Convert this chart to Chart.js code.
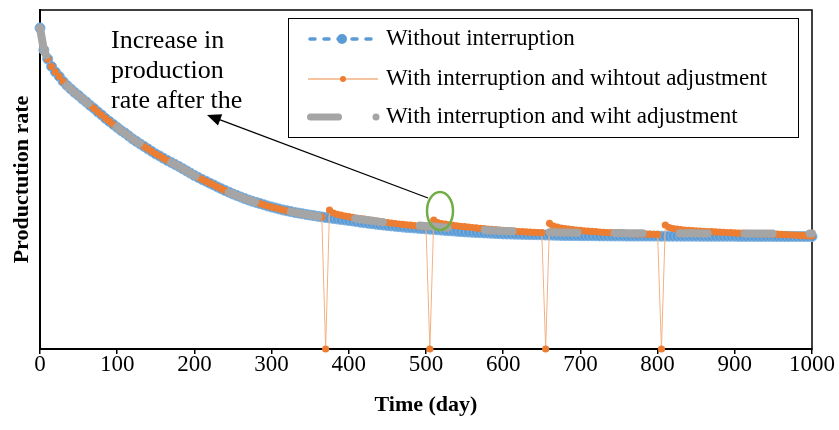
<!DOCTYPE html>
<html>
<head>
<meta charset="utf-8">
<script src="https://cdn.jsdelivr.net/npm/chart.js@4.4.1/dist/chart.umd.min.js"></script>
<style>
  html, body { margin: 0; padding: 0; background: #fff; }
</style>
</head>
<body>
<canvas id="myChart" width="839" height="430"></canvas>
<script>
// time axis, one point every 5 days
const days = [];
for (let d = 0; d <= 1000; d += 5) days.push(d);

const xTicks = [0, 100, 200, 300, 400, 500, 600, 700, 800, 900, 1000];

const seriesNames = [
  'Without interruption',
  'With interruption and wihtout adjustment',
  'With interruption and wiht adjustment'
];

// production rate (arbitrary units)
const withoutInterruption = [
  321, 299, 290, 282.5, 277, 272.5, 267.5, 263.5, 260, 256.5,
  253.5, 250, 247, 243.5, 240.5, 237, 234, 230.5, 227.5, 224.5,
  221.5, 218.5, 216, 213, 210, 207.5, 205, 202.5, 200, 197.5,
  195, 193, 190.7, 188.5, 186.5, 184.5, 182.5, 180.2, 178, 175.8,
  173.5, 171.5, 169.5, 167.7, 165.8, 164, 162, 160.2, 158.4, 156.7,
  155, 153.5, 152, 150.5, 149, 147.8, 146.6, 145.4, 144.2, 143,
  142, 141, 140, 139, 138.2, 137.4, 136.6, 135.9, 135.2, 134.5,
  133.9, 133.3, 132.7, 132.1, 131.5, 131, 130.5, 130, 129.5, 129,
  128.5, 128, 127.4, 126.8, 126.3, 125.8, 125.3, 124.8, 124.3, 123.9,
  123.5, 123.1, 122.7, 122.3, 121.9, 121.6, 121.3, 121, 120.7, 120.4,
  120.1, 119.8, 119.5, 119.2, 118.9, 118.6, 118.3, 118, 117.7, 117.4,
  117.1, 116.9, 116.7, 116.5, 116.3, 116.1, 115.9, 115.7, 115.5, 115.3,
  115.1, 115, 114.9, 114.8, 114.7, 114.6, 114.5, 114.4, 114.3, 114.2,
  114.1, 114, 113.9, 113.8, 113.7, 113.6, 113.5, 113.5, 113.4, 113.4,
  113.3, 113.3, 113.2, 113.2, 113.2, 113.1, 113.1, 113.1, 113, 113,
  113, 113, 112.9, 112.9, 112.9, 112.9, 112.9, 112.9, 112.9, 112.9,
  112.9, 112.8, 112.8, 112.8, 112.8, 112.8, 112.8, 112.8, 112.8, 112.8,
  112.8, 112.7, 112.7, 112.7, 112.7, 112.7, 112.7, 112.7, 112.7, 112.7,
  112.7, 112.6, 112.6, 112.6, 112.6, 112.6, 112.6, 112.6, 112.6, 112.6,
  112.6, 112.5, 112.5, 112.5, 112.5, 112.5, 112.5, 112.5, 112.5, 112.5,
  112.5
];

const interruptionNoAdjust = [
  321, 299, 290, 282.5, 277, 272.5, 267.5, 263.5, 260, 256.5,
  253.5, 250, 247, 243.5, 240.5, 237, 234, 230.5, 227.5, 224.5,
  221.5, 218.5, 216, 213, 210, 207.5, 205, 202.5, 200, 197.5,
  195, 193, 190.7, 188.5, 186.5, 184.5, 182.5, 180.2, 178, 175.8,
  173.5, 171.5, 169.5, 167.7, 165.8, 164, 162, 160.2, 158.4, 156.7,
  155, 153.5, 152, 150.5, 149, 147.8, 146.6, 145.4, 144.2, 143,
  142, 141, 140, 139, 138.2, 137.4, 136.6, 135.9, 135.2, 134.5,
  133.9, 133.3, 132.7, 132.1, 0, 139, 136, 134.7, 133.8, 133,
  132.3, 131.6, 131, 130.4, 129.8, 129.2, 128.6, 128, 127.5, 127,
  126.5, 126, 125.5, 125, 124.6, 124.2, 123.8, 123.4, 123, 122.6,
  122.2, 0, 129, 126.5, 125.5, 124.8, 124.2, 123.7, 123.2, 122.7,
  122.3, 121.9, 121.5, 121.1, 120.7, 120.3, 119.9, 119.6, 119.3, 119,
  118.7, 118.4, 118.1, 117.8, 117.5, 117.3, 117.1, 116.9, 116.7, 116.5,
  116.3, 0, 125.7, 123, 121.8, 121, 120.4, 119.9, 119.4, 119,
  118.6, 118.2, 117.9, 117.6, 117.3, 117, 116.7, 116.5, 116.3, 116.1,
  115.9, 115.7, 115.5, 115.3, 115.2, 115.1, 115, 114.9, 114.8, 114.7,
  114.6, 0, 124, 121.5, 120.5, 119.8, 119.3, 118.9, 118.6, 118.3,
  118.1, 117.9, 117.7, 117.5, 117.3, 117.1, 116.9, 116.7, 116.5, 116.3,
  116.1, 115.9, 115.8, 115.6, 115.5, 115.4, 115.3, 115.2, 115.1, 115,
  114.9, 114.8, 114.6, 114.4, 114.2, 114, 113.8, 113.6, 113.4, 113.2,
  113
];

const interruptionAdjust = [
  321, 299, 290, 282.5, 277, 272.5, 267.5, 263.5, 260, 256.5,
  253.5, 250, 247, 243.5, 240.5, 237, 234, 230.5, 227.5, 224.5,
  221.5, 218.5, 216, 213, 210, 207.5, 205, 202.5, 200, 197.5,
  195, 193, 190.7, 188.5, 186.5, 184.5, 182.5, 180.2, 178, 175.8,
  173.5, 171.5, 169.5, 167.7, 165.8, 164, 162, 160.2, 158.4, 156.7,
  155, 153.5, 152, 150.5, 149, 147.8, 146.6, 145.4, 144.2, 143,
  142, 141, 140, 139, 138.2, 137.4, 136.6, 135.9, 135.2, 134.5,
  133.9, 133.3, 132.7, 132.1, 131.5, 132, 132.3, 132.2, 131.9, 131.5,
  131.1, 130.7, 130.2, 129.7, 129.2, 128.7, 128.2, 127.7, 127.2, 126.8,
  126.4, 126, 125.6, 125.2, 124.8, 124.5, 124.2, 123.9, 123.6, 123.3,
  123, 122.7, 122.4, 122.1, 121.8, 121.5, 121.2, 120.9, 120.6, 120.3,
  120, 119.8, 119.6, 119.4, 119.2, 119, 118.8, 118.6, 118.4, 118.2,
  118, 117.9, 117.8, 117.7, 117.6, 117.5, 117.4, 117.3, 117.2, 117.1,
  117, 116.9, 116.8, 116.7, 116.6, 116.5, 116.4, 116.4, 116.3, 116.3,
  116.2, 116.2, 116.1, 116.1, 116.1, 116, 116, 116, 115.9, 115.9,
  115.9, 115.9, 115.8, 115.8, 115.8, 115.8, 115.8, 115.8, 115.8, 115.8,
  115.8, 115.7, 115.7, 115.7, 115.7, 115.7, 115.7, 115.7, 115.7, 115.7,
  115.7, 115.6, 115.6, 115.6, 115.6, 115.6, 115.6, 115.6, 115.6, 115.6,
  115.6, 115.5, 115.5, 115.5, 115.5, 115.5, 115.5, 115.5, 115.5, 115.5,
  115.5, 115.4, 115.4, 115.4, 115.4, 115.4, 115.4, 115.4, 115.4, 115.4,
  115.4
];

const noteLines = ['Increase in', 'production', 'rate after the'];

const BLUE = '#5B9BD5';
const ORANGE = '#ED7D31';
const ORANGE_LINE = '#F4B183';
const GRAY = '#A5A5A5';
const SERIF = '"Liberation Serif", "Times New Roman", serif';

function toXY(values) {
  return days.map((d, i) => ({ x: d, y: values[i] }));
}

// frame round the plot area
const framePlugin = {
  id: 'frame',
  beforeDatasetsDraw(chart) {
    const { ctx, chartArea: a } = chart;
    ctx.save();
    ctx.strokeStyle = '#000';
    ctx.lineWidth = 1.5;
    ctx.strokeRect(a.left, a.top, a.right - a.left, a.bottom - a.top);
    ctx.restore();
  }
};

// legend box, note text, arrow and circle
const notesPlugin = {
  id: 'notes',
  afterDraw(chart) {
    const ctx = chart.ctx;
    ctx.save();

    // legend
    ctx.fillStyle = '#fff';
    ctx.fillRect(288.5, 18.5, 510, 119);
    ctx.strokeStyle = '#000';
    ctx.lineWidth = 1;
    ctx.strokeRect(288.5, 18.5, 510, 119);

    const rows = [39, 79, 117];
    // blue entry
    ctx.strokeStyle = BLUE;
    ctx.lineWidth = 3.5;
    ctx.lineCap = 'round';
    ctx.setLineDash([5, 9]);
    ctx.beginPath(); ctx.moveTo(310, rows[0]); ctx.lineTo(377, rows[0]); ctx.stroke();
    ctx.setLineDash([]);
    ctx.fillStyle = BLUE;
    ctx.beginPath(); ctx.arc(342, rows[0], 5, 0, Math.PI * 2); ctx.fill();
    // orange entry
    ctx.strokeStyle = ORANGE_LINE;
    ctx.lineWidth = 1.5;
    ctx.lineCap = 'butt';
    ctx.beginPath(); ctx.moveTo(308, rows[1]); ctx.lineTo(378, rows[1]); ctx.stroke();
    ctx.fillStyle = ORANGE;
    ctx.beginPath(); ctx.arc(343, rows[1], 3, 0, Math.PI * 2); ctx.fill();
    // gray entry
    ctx.strokeStyle = GRAY;
    ctx.lineWidth = 7;
    ctx.lineCap = 'round';
    ctx.beginPath(); ctx.moveTo(310.5, rows[2]); ctx.lineTo(338.5, rows[2]); ctx.stroke();
    ctx.fillStyle = GRAY;
    ctx.beginPath(); ctx.arc(376, rows[2], 3.5, 0, Math.PI * 2); ctx.fill();

    ctx.fillStyle = '#000';
    ctx.font = '23px ' + SERIF;
    ctx.textBaseline = 'middle';
    ctx.textAlign = 'left';
    seriesNames.forEach((name, i) => ctx.fillText(name, 386, rows[i]));

    // note text
    ctx.font = '26px ' + SERIF;
    ctx.textBaseline = 'alphabetic';
    noteLines.forEach((line, i) => ctx.fillText(line, 111, 48 + i * 30));

    // arrow
    const tip = { x: 207, y: 115 }, tail = { x: 428, y: 198 };
    const ang = Math.atan2(tail.y - tip.y, tail.x - tip.x);
    ctx.strokeStyle = '#000';
    ctx.lineWidth = 1.3;
    ctx.lineCap = 'butt';
    ctx.beginPath();
    ctx.moveTo(tip.x + 12 * Math.cos(ang), tip.y + 12 * Math.sin(ang));
    ctx.lineTo(tail.x, tail.y);
    ctx.stroke();
    ctx.beginPath();
    ctx.moveTo(tip.x, tip.y);
    ctx.lineTo(tip.x + 14 * Math.cos(ang) - 6 * Math.sin(ang), tip.y + 14 * Math.sin(ang) + 6 * Math.cos(ang));
    ctx.lineTo(tip.x + 14 * Math.cos(ang) + 6 * Math.sin(ang), tip.y + 14 * Math.sin(ang) - 6 * Math.cos(ang));
    ctx.closePath();
    ctx.fill();

    // green circle
    ctx.strokeStyle = '#70AD47';
    ctx.lineWidth = 2.5;
    ctx.beginPath();
    ctx.ellipse(440, 211, 13, 19, 0, 0, Math.PI * 2);
    ctx.stroke();

    ctx.restore();
  }
};

const data = {
  datasets: [
    {
      label: seriesNames[0],
      data: toXY(withoutInterruption),
      borderColor: BLUE,
      borderWidth: 4,
      borderDash: [8, 4],
      pointRadius: 5,
      pointBackgroundColor: BLUE,
      pointBorderColor: '#7FB2E0',
      pointBorderWidth: 1,
      order: 3,
      clip: false
    },
    {
      label: seriesNames[1],
      data: toXY(interruptionNoAdjust),
      borderColor: ORANGE_LINE,
      borderWidth: 1,
      pointRadius: 3.6,
      pointBackgroundColor: ORANGE,
      pointBorderWidth: 0,
      order: 2,
      clip: false
    },
    {
      label: seriesNames[2],
      data: toXY(interruptionAdjust),
      borderColor: GRAY,
      borderWidth: 8,
      borderDash: [28, 37],
      borderCapStyle: 'round',
      pointRadius: 0,
      order: 1,
      clip: false
    }
  ]
};

// config
const config = {
  type: 'line',
  data,
  options: {
    responsive: false,
    animation: false,
    devicePixelRatio: 1,
    layout: { padding: { top: 10, right: 27, left: 0, bottom: 0 } },
    plugins: { legend: { display: false }, tooltip: { enabled: false } },
    scales: {
      x: {
        type: 'linear',
        min: 0,
        max: 1000,
        afterBuildTicks(scale) { scale.ticks = xTicks.map(v => ({ value: v })); },
        afterFit(scale) { scale.height = 81; },
        ticks: {
          color: '#000',
          font: { family: SERIF, size: 23 },
          padding: -3,
          maxRotation: 0,
          callback: v => String(v)
        },
        grid: { drawOnChartArea: false, drawTicks: true, tickLength: 5, color: '#000', lineWidth: 1.5 },
        border: { color: '#000', width: 2 },
        title: {
          display: true,
          text: 'Time (day)',
          color: '#000',
          font: { family: SERIF, size: 22, weight: 'bold' },
          padding: { top: 0, bottom: 11 }
        }
      },
      y: {
        min: 0,
        max: 339,
        afterFit(scale) { scale.width = 40; },
        ticks: { display: false },
        grid: { display: false },
        border: { color: '#000', width: 2 },
        title: {
          display: true,
          text: 'Productution rate',
          color: '#000',
          font: { family: SERIF, size: 22, weight: 'bold' },
          padding: { top: 9, bottom: 0 }
        }
      }
    }
  },
  plugins: [framePlugin, notesPlugin]
};

// render init block
const myChart = new Chart(document.getElementById('myChart'), config);
</script>
</body>
</html>
